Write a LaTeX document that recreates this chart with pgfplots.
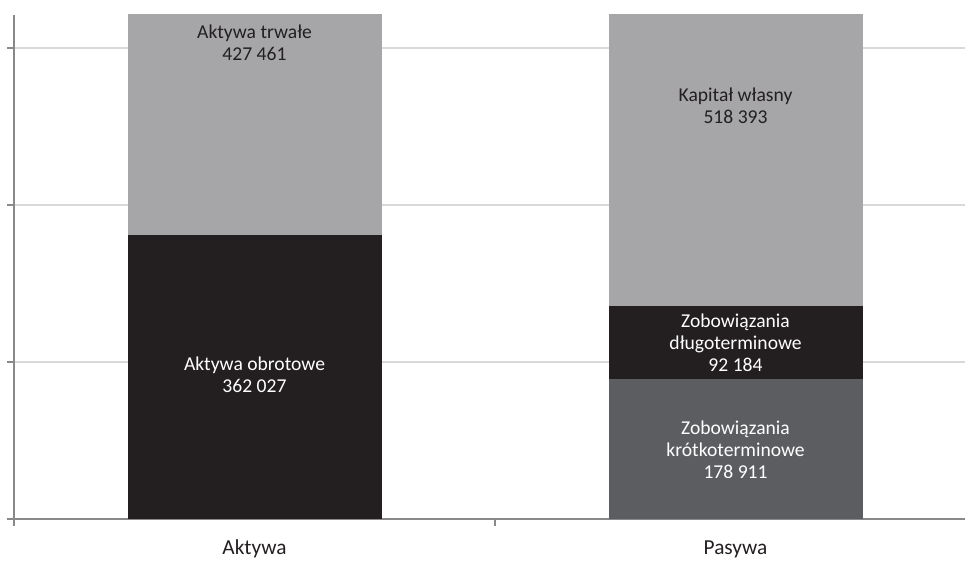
\documentclass[border=0pt]{standalone}
\usepackage{pgfplots}
\pgfplotsset{compat=1.18}
\usepackage{fontspec}
\setmainfont{Carlito}

\definecolor{lightbar}{HTML}{A6A6A8}
\definecolor{blackbar}{HTML}{231F20}
\definecolor{darkbar}{HTML}{5C5D61}
\definecolor{gridc}{HTML}{D9D9D9}
\definecolor{axisc}{HTML}{898989}

\begin{document}
\begin{tikzpicture}
\begin{axis}[
    at={(10.5pt,31.5pt)}, anchor=south west,
    scale only axis,
    width=713.25pt, height=378pt,
    xmin=-0.5, xmax=1.477,
    ymin=0, ymax=642000,
    scaled y ticks=false,
    ybar stacked,
    bar width=0.528,
    axis lines*=left,
    axis line style={axisc, line width=1.5pt},
    xtick={0,1},
    xticklabels={},
    major x tick style={draw=none},
    minor xtick={-0.5,0.5},
    minor x tick style={axisc, line width=1.5pt},
    ytick={0,200000,400000,600000},
    yticklabels={},
    y tick style={axisc, line width=1.5pt},
    tick align=outside,
    major tick length=5.25pt,
    minor tick length=5.25pt,
    ymajorgrids,
    grid style={gridc, line width=1.1pt},
]
\addplot[fill=blackbar, draw=none] coordinates {(0,362027) (1,0)};
\addplot[fill=darkbar, draw=none] coordinates {(0,0) (1,178911)};
\addplot[fill=blackbar, draw=none] coordinates {(0,0) (1,92184)};
\addplot[fill=lightbar, draw=none] coordinates {(0,427461) (1,0)};
\addplot[fill=lightbar, draw=none] coordinates {(0,0) (1,518393)};

\coordinate (at) at (axis cs:0,606000);
\coordinate (ao) at (axis cs:0,183500);
\coordinate (kw) at (axis cs:1,527000);
\coordinate (zd) at (axis cs:1,224000);
\coordinate (zk) at (axis cs:1,88000);
\coordinate (ca) at (axis cs:0,0);
\coordinate (cp) at (axis cs:1,0);
\end{axis}

\begin{scope}[font=\fontsize{14.7}{16.5}\selectfont]
\node[align=center, text=blackbar] at (at) {Aktywa trwałe\\427 461};
\node[align=center, text=white] at (ao) {Aktywa obrotowe\\362 027};
\node[align=center, text=blackbar] at (kw) {Kapitał własny\\518 393};
\node[align=center, text=white] at (zd) {Zobowiązania\\długoterminowe\\92 184};
\node[align=center, text=white] at (zk) {Zobowiązania\\krótkoterminowe\\178 911};
\end{scope}
\node[anchor=base, text=blackbar, font=\fontsize{16}{18}\selectfont, yshift=-27pt] at (ca) {Aktywa};
\node[anchor=base, text=blackbar, font=\fontsize{16}{18}\selectfont, yshift=-27pt] at (cp) {Pasywa};

\pgfresetboundingbox
\useasboundingbox (0,0) rectangle (723.75pt,420.75pt);
\end{tikzpicture}
\end{document}
